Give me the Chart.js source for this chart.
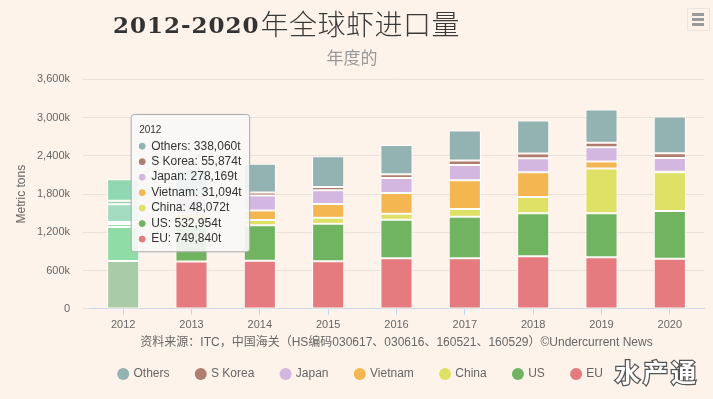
<!DOCTYPE html>
<html>
<head>
<meta charset="utf-8">
<script src="https://cdn.jsdelivr.net/npm/chart.js@4/dist/chart.umd.min.js"></script>
<style>
  html, body { margin: 0; padding: 0; background: #fdf3ea; }
  #wrap { width: 713px; height: 399px; }
</style>
</head>
<body>
<div id="wrap"><canvas id="chart"></canvas></div>
<script>
// dados (toneladas)
const years = ['2012', '2013', '2014', '2015', '2016', '2017', '2018', '2019', '2020'];
const seriesNames = ['EU', 'US', 'China', 'Vietnam', 'Japan', 'S Korea', 'Others'];
const euValues      = [749840, 745000, 755000, 747000, 794000, 794000, 825000, 809000, 787000];
const usValues      = [532954, 560000, 558000, 589000, 605000, 651000, 676000, 691000, 750000];
const chinaValues   = [48072, 70000, 82000, 93000, 93000, 124000, 254000, 704000, 605000];
const vietnamValues = [31094, 120000, 150000, 217000, 326000, 450000, 388000, 109000, 8000];
const japanValues   = [278169, 240000, 232000, 217000, 237000, 237000, 222000, 222000, 217000];
const koreaValues   = [55874, 50000, 47000, 51000, 57000, 73000, 73000, 73000, 73000];
const othersValues  = [338060, 400000, 454000, 480000, 459000, 470000, 516000, 521000, 578000];
const yTicks = [0, 600000, 1200000, 1800000, 2400000, 3000000, 3600000];

const seriesValues = [euValues, usValues, chinaValues, vietnamValues, japanValues, koreaValues, othersValues];
const seriesColors = ['#e57b7f', '#70b462', '#dfe066', '#f3b651', '#d3b7e1', '#b07e70', '#93b2b2'];
// cores da coluna 2012 (em destaque / hover)
const hoverColors  = ['#a9cca6', '#8fdca6', '#9cdbb0', '#9fdcb5', '#a4dcc1', '#9bd9b8', '#8fd8b2'];

const BG = '#fdf3ea';
const FONT = '"Liberation Sans", "Noto Sans CJK SC", sans-serif';
Chart.defaults.font.family = FONT;
Chart.defaults.color = '#666';

const datasets = seriesNames.map((name, i) => ({
  label: name,
  data: seriesValues[i],
  backgroundColor: years.map((y, j) => j === 0 ? hoverColors[i] : seriesColors[i]),
  hoverBackgroundColor: years.map((y, j) => j === 0 ? hoverColors[i] : seriesColors[i]),
  borderColor: '#ffffff',
  borderWidth: 1,
  borderSkipped: false,
  barPercentage: 0.47,
  categoryPercentage: 1
}));

// tooltip fixo à direita da coluna
Chart.Tooltip.positioners.pinned = function (items) {
  if (!items.length) return false;
  const bar = items[0].element;
  return { x: bar.x + 11, y: this.chart.scales.y.getPixelForValue(3050000), xAlign: 'left', yAlign: 'top' };
};

const bgPlugin = {
  id: 'bg',
  beforeDraw(chart) {
    const ctx = chart.ctx;
    ctx.save();
    ctx.fillStyle = BG;
    ctx.fillRect(0, 0, chart.width, chart.height);
    ctx.restore();
  }
};

// sobe a legenda e alinha com o centro da página
const legendLift = {
  id: 'legendLift',
  afterLayout(chart) {
    const lg = chart.legend;
    lg.top -= 9;
    lg.bottom -= 9;
    lg.left += 9;
    lg.right += 9;
  }
};

const titlePlugin = {
  id: 'mainTitle',
  afterDraw(chart) {
    const ctx = chart.ctx;
    ctx.save();
    ctx.textBaseline = 'alphabetic';
    ctx.textAlign = 'left';
    ctx.fillStyle = '#333';
    ctx.font = 'bold 23px "DejaVu Serif", serif';
    ctx.letterSpacing = '1px';
    ctx.fillText('2012-2020', 113, 33);
    const w = ctx.measureText('2012-2020').width;
    ctx.letterSpacing = '0.5px';
    ctx.fillStyle = '#3a3a3a';
    ctx.font = '300 28px "Noto Sans CJK SC", sans-serif';
    ctx.fillText('年全球虾进口量', 113 + w + 1, 35);

    // menu
    ctx.strokeStyle = '#ece4dc';
    ctx.lineWidth = 1;
    ctx.strokeRect(687.5, 8.5, 22, 22);
    ctx.fillStyle = '#9a9a9a';
    [13, 18, 23].forEach(y => ctx.fillRect(692, y, 12, 3));

    // marca d'água
    ctx.font = 'bold 25px "Noto Sans CJK SC", sans-serif';
    ctx.textBaseline = 'middle';
    ctx.lineWidth = 2.5;
    ctx.strokeStyle = '#555';
    ctx.fillStyle = '#ffffff';
    ctx.letterSpacing = '3px';
    ctx.strokeText('水产通', 615, 372);
    ctx.fillText('水产通', 615, 372);
    ctx.restore();
  }
};

const chart = new Chart(document.getElementById('chart'), {
  type: 'bar',
  data: { labels: years, datasets },
  plugins: [bgPlugin, legendLift, titlePlugin],
  options: {
    responsive: true,
    maintainAspectRatio: false,
    animation: false,
    events: [],
    layout: { padding: { top: 40, right: 9, bottom: 0, left: 0 } },
    scales: {
      x: {
        stacked: true,
        grid: { display: true, drawOnChartArea: false, offset: false, tickLength: 6, tickColor: '#ccd6eb' },
        border: { color: '#ccd6eb' },
        ticks: { font: { size: 11 }, color: '#666', padding: 3 },
        title: {
          display: true,
          text: '资料来源：ITC，中国海关（HS编码030617、030616、160521、160529）©Undercurrent News',
          font: { size: 12 },
          color: '#666',
          padding: { top: 1.5, bottom: 0 }
        }
      },
      y: {
        stacked: true,
        min: 0,
        max: 3600000,
        afterFit(scale) { scale.width = 89; },
        afterBuildTicks(scale) { scale.ticks = yTicks.map(v => ({ value: v })); },
        grid: { color: '#e9e2da', tickLength: 6 },
        border: { display: false },
        ticks: {
          font: { size: 11 },
          color: '#666',
          padding: 13,
          callback: v => (v / 1000).toLocaleString('en-US') + (v ? 'k' : '')
        },
        title: {
          display: true,
          text: 'Metric tons',
          font: { size: 12 },
          color: '#666',
          padding: { top: 14.5, bottom: 0 }
        }
      }
    },
    plugins: {
      title: { display: false },
      subtitle: {
        display: true,
        text: '年度的',
        font: { size: 17, family: '"Noto Sans CJK SC", sans-serif' },
        color: '#999',
        padding: { top: 7, bottom: 12 }
      },
      legend: {
        position: 'bottom',
        reverse: true,
        labels: {
          usePointStyle: true,
          pointStyle: 'circle',
          boxWidth: 8.5,
          boxHeight: 8.5,
          padding: 27,
          color: '#666',
          font: { size: 12 },
          generateLabels(c) {
            const items = Chart.defaults.plugins.legend.labels.generateLabels(c);
            items.forEach(it => {
              it.fillStyle = seriesColors[it.datasetIndex];
              it.strokeStyle = seriesColors[it.datasetIndex];
              it.lineWidth = 0;
            });
            return items;
          }
        }
      },
      tooltip: {
        mode: 'index',
        position: 'pinned',
        backgroundColor: 'rgba(248,248,248,0.9)',
        borderColor: '#aaa',
        borderWidth: 1,
        cornerRadius: 3,
        caretSize: 0,
        caretPadding: 0,
        padding: { top: 10, bottom: 5, left: 8, right: 8 },
        titleColor: '#333',
        titleFont: { size: 10, weight: 'normal' },
        titleMarginBottom: 2,
        bodyColor: '#333',
        bodyFont: { size: 12, lineHeight: 1.29 },
        bodySpacing: 0,
        usePointStyle: true,
        boxWidth: 6,
        boxHeight: 6,
        boxPadding: 4,
        itemSort: (a, b) => b.datasetIndex - a.datasetIndex,
        callbacks: {
          label: item => item.dataset.label + ': ' + item.raw.toLocaleString('en-US') + 't',
          labelColor: item => ({
            borderColor: seriesColors[item.datasetIndex],
            backgroundColor: seriesColors[item.datasetIndex],
            borderWidth: 0
          })
        }
      }
    }
  }
});

// mostrar tooltip da coluna 2012
const first = chart.getDatasetMeta(0).data[0];
chart.tooltip.setActiveElements(
  datasets.map((d, i) => ({ datasetIndex: i, index: 0 })),
  { x: first.x, y: first.y }
);
chart.update();
</script>
</body>
</html>
